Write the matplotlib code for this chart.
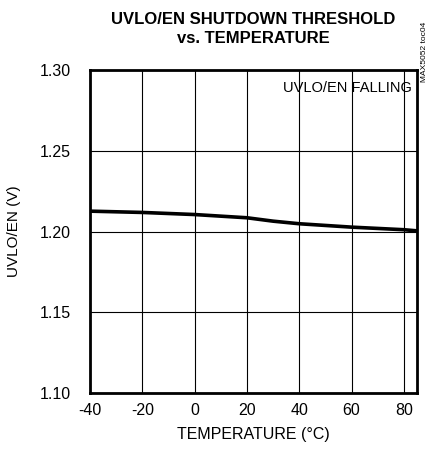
import matplotlib
matplotlib.use("Agg")
import matplotlib.pyplot as plt

plt.rcParams['font.family'] = ['Liberation Sans', 'DejaVu Sans']

temp = [-40, -20, 0, 20, 30, 40, 60, 80, 85]
uvlo = [1.2126, 1.2118, 1.2105, 1.2085, 1.2064, 1.2048, 1.2027, 1.2011, 1.2004]
xticks = [-40, -20, 0, 20, 40, 60, 80]
yticks = [1.10, 1.15, 1.20, 1.25, 1.30]

fig = plt.figure(figsize=(4.30, 4.54), dpi=100)
ax = fig.add_axes([90/430, 1-393/454, 327/430, 323/454])
ax.plot(temp, uvlo, color='black', lw=2.6, solid_capstyle='butt')
ax.set_xlim(-40, 85)
ax.set_ylim(1.10, 1.30)
ax.set_xticks(xticks)
ax.set_yticks(yticks)
ax.set_yticklabels([f"{v:.2f}" for v in yticks])
ax.set_xticklabels([str(v) for v in xticks])
ax.grid(True, color='black', lw=0.8)
ax.set_axisbelow(True)
for s in ax.spines.values():
    s.set_linewidth(2.0)
ax.tick_params(length=0, labelsize=11.5)
ax.tick_params(axis='y', pad=14)
ax.tick_params(axis='x', pad=7)
ax.set_xlabel("TEMPERATURE (°C)", fontsize=11.5, labelpad=7)
ax.set_ylabel("UVLO/EN (V)", fontsize=11, labelpad=13)
ax.text(0.985, 0.965, "UVLO/EN FALLING", transform=ax.transAxes, ha='right', va='top', fontsize=10.5)
fig.text(253/430, 1-29/454, "UVLO/EN SHUTDOWN THRESHOLD\nvs. TEMPERATURE", ha='center', va='center',
         fontsize=12, fontweight='bold', linespacing=1.3)
fig.text(424/430, 1-52/454, "MAX5052 toc04", rotation=90, ha='center', va='center', fontsize=6)
fig.savefig("out.png", dpi=100)
